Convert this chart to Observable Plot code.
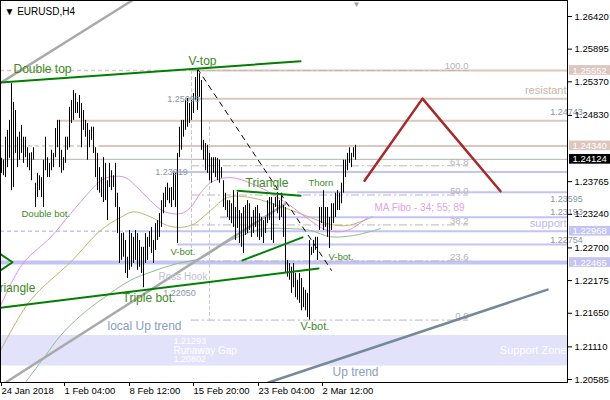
<!DOCTYPE html>
<html><head><meta charset="utf-8">
<script src="https://cdn.jsdelivr.net/npm/d3@7"></script>
<script src="https://cdn.jsdelivr.net/npm/@observablehq/plot@0.6"></script>
<style>body{margin:0;background:#fff}#chart svg{display:block}</style>
</head><body><div id="chart"></div>
<script>
// ---- OHLC bar ranges (H4 bars, bar index 0..177) ----
const barHigh = [
1.2414,1.2411,1.2448,1.2459,1.2475,1.2534,1.2504,1.2491,1.2448,1.2456,
1.2467,1.2448,1.2448,1.2431,1.2422,1.2423,1.2431,1.2374,1.2390,1.2386,
1.2383,1.2411,1.2448,1.2415,1.2406,1.2427,1.2422,1.2462,1.2475,1.2475,
1.2427,1.2415,1.2448,1.2448,1.2496,1.2507,1.2523,1.2518,1.2504,1.2515,
1.2502,1.2491,1.2475,1.2470,1.2459,1.2464,1.2464,1.2431,1.2422,1.2399,
1.2383,1.2415,1.2406,1.2378,1.2406,1.2394,1.2386,1.2406,1.2358,1.2335,
1.2293,1.2294,1.2282,1.2255,1.2298,1.2293,1.2287,1.2298,1.2293,1.2282,
1.2271,1.2271,1.2293,1.2287,1.2296,1.2303,1.2282,1.2309,1.2314,1.2325,
1.2346,1.2358,1.2367,1.2374,1.2366,1.2367,1.2390,1.2390,1.2422,
1.2464,1.2475,1.2475,1.2507,1.2510,1.2502,1.2507,1.2518,1.2544,1.2555,
1.2550,1.2539,1.2443,1.2438,1.2435,1.2422,1.2415,1.2415,1.2415,1.2414,
1.2411,1.2399,1.2378,1.2358,1.2346,
1.2346,1.2341,1.2362,1.2335,1.2359,1.2330,1.2325,1.2335,1.2338,1.2346,
1.2341,1.2319,1.2330,1.2335,1.2338,1.2325,1.2319,1.2314,1.2319,1.2346,
1.2351,1.2351,1.2341,1.2351,1.2359,1.2346,1.2358,1.2338,1.2335,1.2250,
1.2245,1.2239,1.2245,1.2229,1.2218,1.2229,1.2221,1.2206,1.2202,1.2197,
1.2282,1.2271,1.2282,1.2287,1.2287,1.2335,1.2335,1.2362,1.2335,1.2335,
1.2319,1.2341,1.2341,1.2358,1.2362,1.2358,1.2374,1.2411,1.2411,1.2422,
1.2431,1.2422,1.2431,1.2435];
const barLow = [
1.2390,1.2386,1.2383,1.2399,1.2414,1.2362,1.2367,1.2422,1.2399,1.2411,
1.2422,1.2406,1.2415,1.2399,1.2394,1.2378,1.2411,1.2335,1.2351,1.2362,
1.2351,1.2335,1.2394,1.2383,1.2383,1.2394,1.2399,1.2415,1.2431,1.2399,
1.2390,1.2394,1.2406,1.2427,1.2431,1.2470,1.2475,1.2486,1.2486,1.2478,
1.2431,1.2459,1.2448,1.2411,1.2431,1.2443,1.2422,1.2383,1.2362,1.2358,
1.2351,1.2343,1.2346,1.2314,1.2367,1.2362,1.2367,1.2335,1.2293,1.2245,
1.2250,1.2255,1.2229,1.2221,1.2234,1.2239,1.2245,1.2250,1.2234,1.2239,
1.2229,1.2206,1.2245,1.2250,1.2271,1.2261,1.2245,1.2266,1.2282,1.2287,
1.2303,1.2325,1.2335,1.2346,1.2341,1.2335,1.2346,1.2335,1.2277,
1.2415,1.2427,1.2448,1.2459,1.2464,1.2470,1.2475,1.2486,1.2507,1.2491,
1.2512,1.2427,1.2411,1.2394,1.2390,1.2378,1.2374,1.2390,1.2383,1.2378,
1.2374,1.2382,1.2335,1.2330,1.2319,
1.2314,1.2309,1.2303,1.2282,1.2301,1.2277,1.2271,1.2261,1.2290,1.2293,
1.2298,1.2287,1.2293,1.2303,1.2287,1.2282,1.2287,1.2277,1.2293,1.2309,
1.2314,1.2282,1.2277,1.2335,1.2325,1.2314,1.2319,1.2287,1.2229,1.2223,
1.2218,1.2197,1.2206,1.2190,1.2186,1.2181,1.2169,1.2174,1.2169,1.2158,
1.2154,1.2258,1.2261,1.2266,1.2250,1.2298,1.2309,1.2298,1.2303,1.2287,
1.2269,1.2298,1.2309,1.2319,1.2330,1.2330,1.2341,1.2358,1.2383,1.2394,
1.2406,1.2399,1.2415,1.2411];

// ---- moving averages (bar index, price) ----
const ma34 = [[-0.5,1.2177],[7,1.2226],[12,1.2250],[24.5,1.2287],[34.5,1.2325],[44.5,1.2362],[49.5,1.2378],[55.5,1.2385],[62,1.2383],[67,1.2370],[74.5,1.2346],[81,1.2329],[89.5,1.2325],[94.5,1.2335],[99.5,1.2358],[104.5,1.2375],[110.5,1.2382],[117,1.2382],[129.5,1.2367],[143,1.2341],[154.5,1.2314],[163,1.2298],[173,1.2298],[183,1.2319]];
const ma55 = [[-0.5,1.2105],[14.5,1.2186],[34.5,1.2247],[49.5,1.2298],[59.5,1.2319],[66,1.2328],[74.5,1.2320],[83,1.2306],[89.5,1.2303],[96,1.2308],[99.5,1.2316],[104.5,1.2330],[113,1.2351],[124.5,1.2351],[141,1.2335],[154.5,1.2319],[163,1.2309],[173,1.2306],[185.5,1.2320]];
const ma89 = [[12,1.2054],[22,1.2097],[29.5,1.2129],[39.5,1.2161],[49.5,1.2186],[64.5,1.2218],[74.5,1.2231],[88,1.2245],[99.5,1.2253],[104.5,1.2262],[114.5,1.2282],[129.5,1.2300],[144.5,1.2301],[154.5,1.2298],[164.5,1.2288],[176,1.2290],[189.5,1.2301]];

// ---- horizontal levels ----
const pinkLevels = [1.25552, 1.25098, 1.24743, 1.24340];
const pinkFrom   = [95, 92, 28, 49.5];
const pinkDashed = [1.25552, 1.24340];
const pinkDashTo = [95, 49.5];
const blueLevels = [1.23919, 1.23595, 1.23193, 1.22968, 1.22754];
const blueFrom   = [85.5, 148, 109.5, 62, 88];
const blueDashed = [1.22968];
const blueDashTo = [62];
const keyLevel = 1.22465;
const lastPrice = 1.24124;
const zoneHigh = 1.21293, zoneLow = 1.20802;

// ---- Fibonacci retracement ----
const fiboLevels = [1.25552, 1.2402, 1.2355, 1.2307, 1.2249, 1.2154];
const fiboNames = ["100.0", "61.8", "50.0", "38.2", "23.6", "0.0"];
const fiboFrom = 95, fiboTo = 233.5;

// ---- trend lines (bar index, price) ----
const doubleTopLine = [[-0.5,1.2536],[149.5,1.2570]];
const tripleBotLine = [[-0.5,1.2174],[158.5,1.2237]];
const triUpper = [[118,1.2362],[149.5,1.2354]];
const triLower = [[120.5,1.2250],[150.5,1.2287]];
const leftTri = [[-0.5,1.2260],[5.5,1.2247],[-0.5,1.2234]];
const grayUpper = [[-3,1.2530],[65.5,1.2668]];
const localUp = [[2,1.20537],[142,1.2341]];
const upTrend = [[133.5,1.20537],[273,1.2203]];
const forecast = [[181.5,1.2378],[210.5,1.2510],[249.5,1.2361]];
const diagDash = [[98,1.2558],[165,1.2234]];
const vDash1 = [[95,1.2555],[95,1.2270]];
const vDash2 = [[104,1.2475],[104,1.2153]];

// ---- axes ----
const yTicks = [1.26420,1.25895,1.25370,1.24830,1.23765,1.23240,1.22700,1.22175,1.21650,1.21110,1.20585];
const xTicks = [-0.5, 31, 63.5, 95.5, 128, 160];
const xLabels = ["24 Jan 2018","1 Feb 04:00","8 Feb 12:00","15 Feb 20:00","23 Feb 04:00","2 Mar 12:00"];

// ---- annotations ----
const greenNotes = [
  {i:6, p:1.2557, t:"Double top", s:12},
  {i:93.5, p:1.2570, t:"V-top", s:12},
  {i:-4.5, p:1.2206, t:"Triangle", s:12},
  {i:60.5, p:1.2189, t:"Triple bot.", s:12},
  {i:122, p:1.2374, t:"Triangle", s:12},
  {i:149.5, p:1.2144, t:"V-bot.", s:11},
  {i:10, p:1.2325, t:"Double bot.", s:9.5},
  {i:153.5, p:1.2374, t:"Thorn", s:9.5},
  {i:84.5, p:1.2263, t:"V-bot.", s:9.5},
  {i:163.5, p:1.2256, t:"V-bot.", s:9.5}
];
const priceNotes = [
  {i:91, p:1.2510, t:"1.25098", a:"end"},
  {i:85, p:1.2392, t:"1.23919", a:"end"},
  {i:89, p:1.2197, t:"1.22050", a:"start"},
  {i:282.5, p:1.2488, t:"1.24743", a:"end"},
  {i:282.5, p:1.2348, t:"1.23595", a:"end"},
  {i:282.5, p:1.2327, t:"1.23193", a:"end"},
  {i:282.5, p:1.2282, t:"1.22754", a:"end"}
];

const bars = barHigh.map((h, i) => ({i, high: h, low: barLow[i]}));
const pts = a => a.map(([i, p]) => ({i, p}));
const lvl = (ps, from, to) => ps.map((p, k) => ({p, a: from[k], b: to == null ? 283 : to[k]}));
const lineOpts = (stroke, w, extra = {}) => ({x: "i", y: "p", stroke, strokeWidth: w, clip: true, ...extra});
const boxH = 0.00078;

const chart = Plot.plot({
  width: 610, height: 400,
  marginLeft: 0, marginRight: 43, marginTop: 0, marginBottom: 18,
  x: {type: "linear", domain: [-0.5, 283], axis: null},
  y: {type: "linear", domain: [1.20537, 1.26677], axis: null},
  style: {fontFamily: "'Liberation Sans', Arial, sans-serif", background: "white", color: "black"},
  marks: [
    Plot.rect([{a: -0.5, b: 283, lo: zoneLow, hi: zoneHigh}], {x1: "a", x2: "b", y1: "lo", y2: "hi", fill: "#e2e2fa"}),
    Plot.ruleY(lvl(pinkDashed, pinkDashTo.map(() => -0.5), pinkDashTo), {y: "p", x1: "a", x2: "b", stroke: "#dcc6be", strokeWidth: 1.5, strokeDasharray: "4,3"}),
    Plot.ruleY(lvl(pinkLevels, pinkFrom), {y: "p", x1: "a", x2: "b", stroke: "#dcc6be", strokeWidth: 2}),
    Plot.ruleY([lastPrice], {y: d => d, stroke: "#b4b4b4", strokeWidth: 1}),
    Plot.ruleY(lvl(blueDashed, blueDashTo.map(() => -0.5), blueDashTo), {y: "p", x1: "a", x2: "b", stroke: "#c4c4f4", strokeWidth: 1.5, strokeDasharray: "4,3"}),
    Plot.ruleY(lvl(blueLevels, blueFrom), {y: "p", x1: "a", x2: "b", stroke: "#c4c4f4", strokeWidth: 2}),
    Plot.ruleY([keyLevel], {y: d => d, stroke: "#c4c4f4", strokeWidth: 4}),
    Plot.ruleY(fiboLevels, {y: d => d, x1: fiboFrom, x2: fiboTo, stroke: "#b8b8b8", strokeWidth: 1, strokeDasharray: "8,3,2,3"}),
    Plot.text(fiboLevels, {y: d => d, x: fiboTo, text: (d, k) => fiboNames[k], textAnchor: "end", lineAnchor: "bottom", dy: -1, fill: "#b4b4b4", fontSize: 9.5}),
    Plot.line(pts(vDash1), lineOpts("#c8c8c8", 1, {strokeDasharray: "3,3"})),
    Plot.line(pts(vDash2), lineOpts("#c8c8c8", 1, {strokeDasharray: "3,3"})),
    Plot.line(pts(ma89), lineOpts("#8fbc8f", 1, {curve: "catmull-rom"})),
    Plot.line(pts(ma55), lineOpts("#bdb76b", 1, {curve: "catmull-rom"})),
    Plot.line(pts(ma34), lineOpts("#e290e2", 1, {curve: "catmull-rom"})),
    Plot.line(pts(grayUpper), lineOpts("#a9a9a9", 2.5)),
    Plot.line(pts(localUp), lineOpts("#a9a9a9", 2.5)),
    Plot.line(pts(upTrend), lineOpts("#778899", 2.5)),
    Plot.line(pts(diagDash), lineOpts("black", 1, {strokeDasharray: "5,5"})),
    Plot.ruleX(bars, {x: "i", y1: "low", y2: "high", stroke: "black", strokeWidth: 1}),
    Plot.line(pts(doubleTopLine), lineOpts("#008000", 2)),
    Plot.line(pts(tripleBotLine), lineOpts("#008000", 2)),
    Plot.line(pts(triUpper), lineOpts("#008000", 2)),
    Plot.line(pts(triLower), lineOpts("#008000", 2)),
    Plot.line(pts(leftTri), lineOpts("#008000", 2)),
    Plot.line(pts(forecast), lineOpts("#a52a2a", 2.5)),
    Plot.text(greenNotes, {x: "i", y: "p", text: "t", fontSize: d => d.s, textAnchor: "start", fill: "#3d8a1e"}),
    Plot.text(priceNotes, {x: "i", y: "p", text: "t", textAnchor: d => d.a, fill: "#8a96a8", fontSize: 9}),
    Plot.text([{i: 78.5, p: 1.2223}], {x: "i", y: "p", text: () => "Ross Hook", textAnchor: "start", fill: "#c0c0d0", fontSize: 10}),
    Plot.text([{i: 53, p: 1.2145, t: "local Up trend"}, {i: 165.5, p: 1.2071, t: "Up trend"}], {x: "i", y: "p", text: "t", textAnchor: "start", fill: "#8c9cc4", fontSize: 12}),
    Plot.text([{i: 186.5, p: 1.2335}], {x: "i", y: "p", text: () => "MA Fibo - 34; 55; 89", textAnchor: "start", fill: "#e0a4e0", fontSize: 10}),
    Plot.text([{i: 282.5, p: 1.2523}], {x: "i", y: "p", text: () => "resistant", textAnchor: "end", fill: "#c8b4ac", fontSize: 11}),
    Plot.text([{i: 282.5, p: 1.2309}], {x: "i", y: "p", text: () => "support", textAnchor: "end", fill: "#b8b8f0", fontSize: 11}),
    Plot.text([{i: 86, p: 1.2120, t: "1.21293", s: 9}, {i: 86, p: 1.2105, t: "Runaway Gap", s: 10}, {i: 86, p: 1.2091, t: "1.20802", s: 9}], {x: "i", y: "p", text: "t", fontSize: d => d.s, textAnchor: "start", fill: "white"}),
    Plot.text([{i: 282.5, p: 1.2105}], {x: "i", y: "p", text: () => "Support Zone", textAnchor: "end", fill: "white", fontSize: 11}),
    Plot.text([{i: 177.5, p: 1.2662}], {x: "i", y: "p", text: () => "▼", fill: "#a0a0a0", fontSize: 8}),
    Plot.text([{i: 1.5, p: 1.2650}], {x: "i", y: "p", text: () => "▼ EURUSD,H4", textAnchor: "start", fill: "black", fontSize: 10}),
    Plot.frame({stroke: "black"}),
    Plot.axisY({anchor: "right", ticks: yTicks, tickFormat: d => d.toFixed(5), tickSize: 4, tickPadding: 3, fontSize: 9.5}),
    Plot.axisX({anchor: "bottom", ticks: xTicks, tickFormat: d => xLabels[xTicks.indexOf(d)], tickSize: 4, tickPadding: 1, textAnchor: "start", dx: 1, fontSize: 9.5}),
    Plot.rect(pinkDashed, {x1: 284, x2: 305, y1: d => d - boxH, y2: d => d + boxH, fill: "#dcc6be"}),
    Plot.rect([keyLevel, 1.22968], {x1: 284, x2: 305, y1: d => d - boxH, y2: d => d + boxH, fill: "#c4c4f4"}),
    Plot.rect([lastPrice], {x1: 284, x2: 305, y1: d => d - boxH, y2: d => d + boxH, fill: "black"}),
    Plot.text([...pinkDashed, keyLevel, 1.22968, lastPrice], {x: 285.5, y: d => d, text: d => d.toFixed(5), textAnchor: "start", fill: "white", fontSize: 9.5})
  ]
});
document.getElementById("chart").append(chart);
</script>
</body></html>
